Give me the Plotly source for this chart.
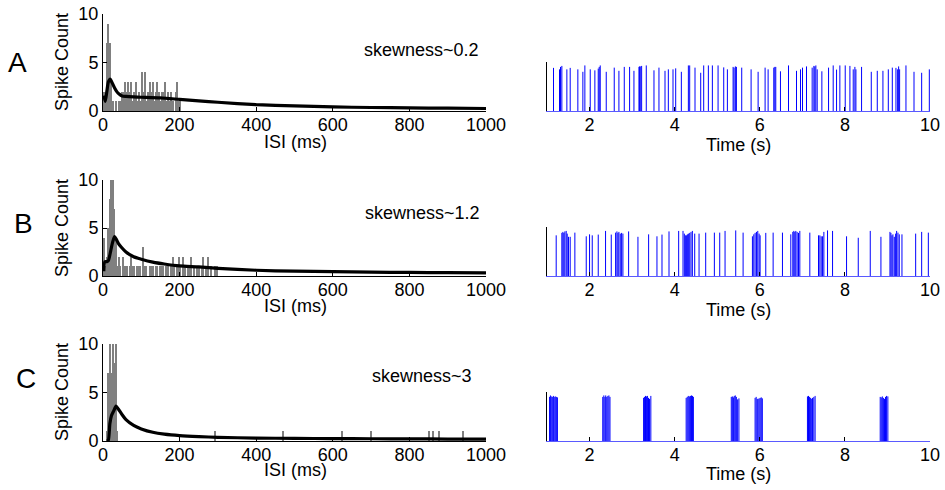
import plotly.graph_objects as go

# ---------------- data ----------------
# ISI histogram bin centres (ms) and counts
isi_a = [2,6,10,14,18,22,26,30,34,38,42,46,50,54,58,62,66,70,74,78,82,86,90,94,98,102,106,110,114,118,122,126,130,134,138,142,146,150,154,158,162,166,170,174,178,182,186,190,194,198,202]
cnt_a = [2,1,7,9,7,3,1,0,1,0,1,1,2,2,3,2,3,2,3,1,2,3,1,2,1,4,2,4,1,2,3,2,3,1,2,3,2,1,2,2,3,1,2,1,2,1,0,2,3,1,1]

isi_b = [2,6,10,14,18,22,26,30,34,38,42,46,50,54,58,62,66,70,74,78,82,86,90,94,98,102,106,110,114,118,122,126,130,134,138,142,146,150,154,158,162,166,170,174,178,182,186,190,194,198,202,206,210,214,218,222,226,230,234,238,242,246,250,254,258,262,266,270,274,278,282,286,290,294,298,302]
cnt_b = [4,1,2,5,8,10,10,7,4,1,2,1,0,2,1,1,0,1,2,1,1,0,1,1,1,0,3,1,1,0,1,1,1,0,1,1,0,1,1,1,0,1,1,0,1,2,1,0,1,2,1,0,2,1,0,1,1,2,0,1,0,1,1,0,1,2,0,1,2,0,1,0,0,1,1,0]

isi_c = [10,14,18,22,26,30,34,38,292,470,624,700,851,862,877,940]
cnt_c = [1,7,10,7,10,8,10,1,1,1,1,1,1,1,1,1]

# fitted density curves
fit_a_x = [2,6,10,14,19,24,30,36,42,50,60,80,100,150,200,250,300,400,500,600,700,800,900,1000]
fit_a_y = [1.6,1.0,2.0,3.0,3.3,2.9,2.4,2.0,1.75,1.55,1.5,1.45,1.42,1.35,1.2,1.05,0.9,0.65,0.52,0.42,0.36,0.32,0.29,0.26]
fit_b_x = [2,5,10,14,20,25,30,35,40,48,60,80,100,130,160,200,250,300,400,500,600,700,800,900,1000]
fit_b_y = [0.5,1.5,1.5,1.6,2.6,3.5,4.1,3.8,3.4,3.0,2.5,2.0,1.75,1.45,1.25,1.05,0.95,0.8,0.6,0.5,0.45,0.4,0.37,0.35,0.33]
fit_c_x = [10,14,18,22,28,34,40,50,60,80,100,130,160,200,250,300,400,500,600,700,800,900,1000]
fit_c_y = [0,0.1,1.8,2.6,3.1,3.6,3.3,2.7,2.2,1.6,1.25,0.9,0.7,0.55,0.45,0.38,0.3,0.27,0.25,0.23,0.22,0.2,0.2]

# spike times (s) and drawn heights
spk_a = [1.153,1.294,1.318,1.349,1.467,1.545,1.725,1.843,1.890,2.016,2.125,2.204,2.227,2.251,2.392,2.580,2.690,2.816,2.941,3.043,3.161,3.176,3.192,3.224,3.333,3.514,3.631,3.773,3.851,3.961,4.024,4.157,4.322,4.353,4.478,4.612,4.682,4.792,4.886,5.020,5.153,5.239,5.373,5.396,5.427,5.451,5.576,5.796,5.961,6.125,6.196,6.329,6.353,6.376,6.486,6.675,6.863,6.957,7.004,7.098,7.231,7.271,7.294,7.318,7.349,7.459,7.616,7.725,7.804,7.882,8.008,8.118,8.196,8.235,8.259,8.392,8.620,8.761,8.894,9.020,9.114,9.200,9.239,9.263,9.286,9.435,9.624,9.804,9.984]
hgt_a = [0.88,0.85,0.90,0.92,0.85,0.88,0.85,0.80,0.93,0.85,0.83,0.865,0.90,0.93,0.80,0.885,0.82,0.90,0.90,0.82,0.90,0.91,0.91,0.92,0.93,0.83,0.885,0.82,0.85,0.85,0.87,0.80,0.93,0.93,0.885,0.78,0.93,0.93,0.93,0.93,0.89,0.85,0.90,0.885,0.91,0.90,0.885,0.85,0.80,0.885,0.85,0.885,0.90,0.90,0.81,0.93,0.82,0.85,0.885,0.91,0.885,0.92,0.91,0.93,0.85,0.81,0.885,0.93,0.845,0.93,0.93,0.92,0.85,0.90,0.85,0.90,0.80,0.82,0.82,0.85,0.885,0.88,0.85,0.91,0.85,0.93,0.80,0.78,0.85]

spk_b = [1.216,1.349,1.373,1.396,1.420,1.451,1.475,1.506,1.545,1.655,1.922,2.000,2.063,2.204,2.376,2.510,2.612,2.643,2.667,2.690,2.722,2.753,2.784,2.918,3.137,3.388,3.584,3.702,3.867,4.094,4.196,4.227,4.251,4.275,4.298,4.322,4.353,4.384,4.416,4.471,4.573,4.729,4.933,5.059,5.184,5.435,5.608,5.827,5.859,5.890,5.922,5.953,5.984,6.008,6.141,6.314,6.533,6.729,6.776,6.800,6.824,6.847,6.878,6.910,6.941,7.176,7.380,7.412,7.443,7.475,7.506,7.592,7.710,8.039,8.314,8.596,8.847,9.059,9.082,9.106,9.129,9.161,9.192,9.216,9.247,9.278,9.341,9.663,9.804,9.961]
hgt_b = [0.83,0.88,0.90,0.88,0.91,0.92,0.865,0.80,0.80,0.885,0.81,0.85,0.83,0.845,0.92,0.845,0.885,0.91,0.88,0.90,0.865,0.88,0.865,0.91,0.80,0.85,0.81,0.845,0.91,0.92,0.92,0.865,0.83,0.83,0.85,0.865,0.88,0.90,0.92,0.865,0.865,0.885,0.885,0.885,0.92,0.93,0.885,0.81,0.85,0.88,0.90,0.92,0.865,0.83,0.88,0.885,0.885,0.85,0.90,0.92,0.90,0.92,0.90,0.88,0.92,0.885,0.83,0.83,0.81,0.81,0.90,0.93,0.92,0.81,0.78,0.92,0.80,0.90,0.88,0.83,0.85,0.80,0.865,0.92,0.885,0.85,0.85,0.865,0.90,0.885]

spk_c = [1.06,1.08,1.10,1.125,1.15,1.17,1.195,1.22,1.245,
         2.31,2.335,2.36,2.38,2.405,2.43,2.455,2.48,
         3.27,3.29,3.315,3.34,3.36,3.385,3.41,3.44,
         4.27,4.295,4.32,4.345,4.37,4.395,4.42,4.44,
         5.33,5.355,5.38,5.40,5.425,5.45,5.48,5.51,
         5.89,5.915,5.94,5.96,5.985,6.01,6.035,6.06,
         7.12,7.145,7.17,7.195,7.22,7.24,7.27,7.30,
         8.83,8.855,8.88,8.905,8.93,8.955,8.98,9.01]
hgt_c = [0.90,0.93,0.91,0.90,0.92,0.90,0.91,0.90,0.89,
         0.90,0.93,0.90,0.93,0.90,0.92,0.93,0.90,
         0.88,0.90,0.92,0.91,0.92,0.88,0.86,0.92,
         0.88,0.90,0.92,0.91,0.92,0.93,0.92,0.90,
         0.90,0.91,0.89,0.92,0.93,0.90,0.85,0.87,
         0.88,0.90,0.86,0.86,0.87,0.88,0.89,0.87,
         0.91,0.92,0.90,0.88,0.86,0.88,0.90,0.92,
         0.90,0.89,0.91,0.88,0.86,0.90,0.92,0.91]

skew_labels = ["skewness~0.2", "skewness~1.2", "skewness~3"]
panel_labels = ["A", "B", "C"]
isi_ticks = [0, 200, 400, 600, 800, 1000]
count_ticks = [0, 5, 10]
time_ticks = [2, 4, 6, 8, 10]

# ---------------- layout geometry (pixels) ----------------
W, H = 945, 490
FONT = "Liberation Sans, Arial, sans-serif"
def px(x): return x / W
def py(y): return 1 - y / H

hist_x = (103, 486)
rast_x = (547, 930)
hist_rows = [(14, 111), (180, 276), (344, 441)]   # (top, bottom) pixel for 10 / 0
rast_rows = [(62, 111), (227, 276), (392, 441)]

fig = go.Figure()

hists = [(isi_a, cnt_a), (isi_b, cnt_b), (isi_c, cnt_c)]
fits = [(fit_a_x, fit_a_y), (fit_b_x, fit_b_y), (fit_c_x, fit_c_y)]
rasters = [(spk_a, hgt_a), (spk_b, hgt_b), (spk_c, hgt_c)]

layout = {}
for i in range(3):
    hx = f"x{2*i+1}" if i > 0 else "x"
    hy = f"y{2*i+1}" if i > 0 else "y"
    rx = f"x{2*i+2}"
    ry = f"y{2*i+2}"
    # histogram
    fig.add_trace(go.Bar(x=hists[i][0], y=hists[i][1], width=3.6,
                         marker=dict(color="rgb(128,128,128)", line=dict(width=0)),
                         xaxis=hx, yaxis=hy, showlegend=False))
    fig.add_trace(go.Scatter(x=fits[i][0], y=fits[i][1], mode="lines",
                             line=dict(color="black", width=3.2, shape="spline", smoothing=0.6),
                             xaxis=hx, yaxis=hy, showlegend=False))
    # raster
    xs, ys = [], []
    for t, h in zip(*rasters[i]):
        xs += [t, t, None]
        ys += [0, h, None]
    fig.add_trace(go.Scatter(x=xs, y=ys, mode="lines",
                             line=dict(color="rgb(0,0,255)", width=1),
                             xaxis=rx, yaxis=ry, showlegend=False))

    top, bot = hist_rows[i]
    rtop, rbot = rast_rows[i]
    hxn = "xaxis" if i == 0 else f"xaxis{2*i+1}"
    hyn = "yaxis" if i == 0 else f"yaxis{2*i+1}"
    common = dict(showgrid=False, zeroline=False, automargin=False)
    layout[hxn] = dict(domain=[px(hist_x[0]), px(hist_x[1])], range=[0, 1000],
                       anchor=hy, tickvals=isi_ticks, ticks="inside", ticklen=4,
                       tickcolor="black", showline=True, linecolor="black", linewidth=1,
                       ticklabelstandoff=-3,
                       tickfont=dict(size=18, color="black", family=FONT), **common)
    layout[hyn] = dict(domain=[py(bot), py(top)], range=[0, 10],
                       anchor=hx, tickvals=count_ticks, ticks="inside", ticklen=4,
                       tickcolor="black", showline=True, linecolor="black", linewidth=1,
                       ticklabelstandoff=0,
                       tickfont=dict(size=18, color="black", family=FONT), **common)
    layout[f"xaxis{2*i+2}"] = dict(domain=[px(rast_x[0]), px(rast_x[1])], range=[1, 10],
                       anchor=ry, tickvals=time_ticks, ticks="inside", ticklen=4,
                       tickcolor="black", showline=True, linecolor="rgb(90,90,255)", linewidth=1,
                       ticklabelstandoff=-3,
                       tickfont=dict(size=18, color="black", family=FONT), **common)
    layout[f"yaxis{2*i+2}"] = dict(domain=[py(rbot), py(rtop)], range=[0, 1],
                       anchor=rx, showticklabels=False, ticks="",
                       showline=True, linecolor="black", linewidth=1, **common)

annots = []
ann_rows = [
    dict(letter=(17, 63), sc=(62, 62), isi=(295, 142), time=(738, 145), skew=(362, 50)),
    dict(letter=(23, 224), sc=(62, 228), isi=(295, 306), time=(738, 310), skew=(363, 213)),
    dict(letter=(26, 378), sc=(62, 392), isi=(295, 470), time=(738, 474), skew=(370, 376)),
]
def ann(text, xy, size, **kw):
    d = dict(text=text, x=px(xy[0]), y=py(xy[1]), xref="paper", yref="paper",
             showarrow=False, xanchor="center", yanchor="middle",
             font=dict(size=size, color="black", family=FONT))
    d.update(kw)
    return d

for i, a in enumerate(ann_rows):
    annots.append(ann(panel_labels[i], a["letter"], 28))
    annots.append(ann("Spike Count", a["sc"], 18, textangle=-90))
    annots.append(ann("ISI (ms)", a["isi"], 18))
    annots.append(ann("Time (s)", a["time"], 18))
    annots.append(ann(skew_labels[i], a["skew"], 18, xanchor="left"))

fig.update_layout(width=W, height=H,
                  margin=dict(l=0, r=0, t=0, b=0, pad=0, autoexpand=False),
                  paper_bgcolor="white", plot_bgcolor="white",
                  bargap=0, annotations=annots,
                  font=dict(family=FONT, color="black"), **layout)

fig.write_html("out.html",
               post_script="document.documentElement.style.margin='0';"
                           "document.body.style.margin='0';"
                           "document.body.style.overflow='hidden';")
